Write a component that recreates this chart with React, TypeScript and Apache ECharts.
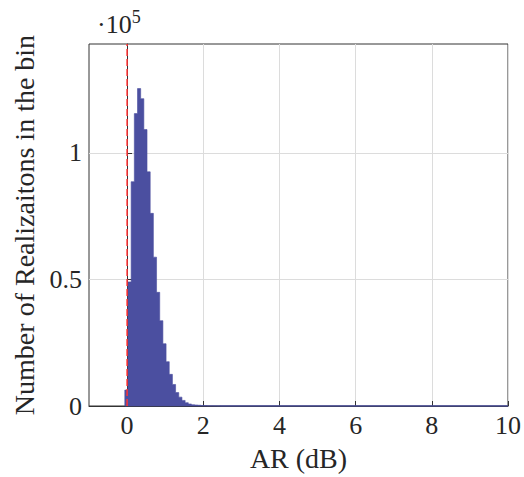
import React, { useEffect, useRef } from "react";
import * as echarts from "echarts";

// Histogram data (counts in units of 1e5)
const binStart = -0.06;
const binWidth = 1 / 12;
const counts = [
  0.063, 0.49, 0.886, 1.155, 1.254, 1.214, 1.092, 0.925, 0.761, 0.588,
  0.449, 0.337, 0.246, 0.175, 0.125, 0.085, 0.053, 0.035, 0.022, 0.013,
  0.008, 0.005, 0.004, 0.003, 0.002, 0.0015, 0.001, 0.001, 0.0007, 0.0005,
];
const tailEnd = 10;
const xTicks = [0, 2, 4, 6, 8, 10];
const yTicks = [0, 0.5, 1];
const xRange = [-1, 10];
const yRange = [0, 1.43];
const thresholdX = 0;

const FONT = "'Times New Roman', Times, 'Liberation Serif', serif";
const BAR = "#4B4FA0";
const AXIS = "#333333";

export default function App() {
  const ref = useRef<HTMLDivElement>(null);
  useEffect(() => {
    if (!ref.current) return;
    const chart = echarts.init(ref.current, null, { renderer: "svg" });
    const barData = counts.map((c, i) => [
      binStart + i * binWidth,
      binStart + (i + 1) * binWidth,
      c,
    ]);
    const lastEdge = binStart + counts.length * binWidth;
    chart.setOption({
      animation: false,
      grid: {
        left: 89,
        right: 15,
        top: 44,
        bottom: 70,
        show: true,
        borderColor: AXIS,
        borderWidth: 1,
        backgroundColor: "transparent",
      },
      xAxis: {
        type: "value",
        min: xRange[0],
        max: xRange[1],
        name: "AR (dB)",
        nameLocation: "middle",
        nameGap: 38,
        nameTextStyle: { fontFamily: FONT, fontSize: 28, color: "#262626" },
        axisLine: { show: true, lineStyle: { color: AXIS, width: 1 } },
        axisTick: {
          show: true,
          inside: true,
          length: 5,
          customValues: xTicks,
          lineStyle: { color: AXIS },
        },
        axisLabel: {
          customValues: xTicks,
          fontFamily: FONT,
          fontSize: 26,
          color: "#262626",
          margin: 6,
        },
        splitLine: { show: true, lineStyle: { color: "#DCDCDC", width: 1 } },
      },
      yAxis: {
        type: "value",
        min: yRange[0],
        max: yRange[1],
        name: "Number of Realizaitons in the bin",
        nameLocation: "middle",
        nameGap: 46,
        nameTextStyle: { fontFamily: FONT, fontSize: 28, color: "#262626" },
        axisLine: { show: true, lineStyle: { color: AXIS, width: 1 } },
        axisTick: {
          show: true,
          inside: true,
          length: 5,
          customValues: yTicks,
          lineStyle: { color: AXIS },
        },
        axisLabel: {
          customValues: yTicks,
          fontFamily: FONT,
          fontSize: 26,
          color: "#262626",
          margin: 7,
        },
        splitLine: { show: true, lineStyle: { color: "#DCDCDC", width: 1 } },
      },
      graphic: [
        {
          type: "text",
          left: 97,
          top: 8,
          style: {
            text: "·10{s|5}",
            fontFamily: FONT,
            fontSize: 26,
            fill: "#262626",
            rich: {
              s: {
                fontFamily: FONT,
                fontSize: 18,
                verticalAlign: "top",
                padding: [0, 0, 14, 0],
                fill: "#262626",
              },
            },
          },
        },
      ],
      series: [
        {
          type: "line",
          data: [
            [lastEdge, 0],
            [tailEnd, 0],
          ],
          symbol: "none",
          lineStyle: { color: BAR, width: 1.5 },
          z: 3,
        },
        {
          type: "custom",
          data: barData,
          encode: { x: [0, 1], y: 2 },
          renderItem: (params: any, api: any) => {
            if (params.dataIndex !== 0) return null;
            const pts: number[][] = [];
            pts.push(api.coord([barData[0][0], 0]));
            for (const b of barData) {
              pts.push(api.coord([b[0], b[2]]));
              pts.push(api.coord([b[1], b[2]]));
            }
            pts.push(api.coord([barData[barData.length - 1][1], 0]));
            return {
              type: "polygon",
              shape: { points: pts },
              style: { fill: BAR, stroke: BAR, lineWidth: 0.6 },
            };
          },
          z: 4,
        },
        {
          type: "line",
          data: [
            [thresholdX, yRange[0]],
            [thresholdX, yRange[1]],
          ],
          symbol: "none",
          lineStyle: { color: "#FF3333", width: 1.5, type: [7, 3] },
          z: 10,
        },
      ],
    });
    return () => chart.dispose();
  }, []);
  return (
    <div
      ref={ref}
      style={{ position: "absolute", left: 0, top: 0, width: 524, height: 477 }}
    />
  );
}
